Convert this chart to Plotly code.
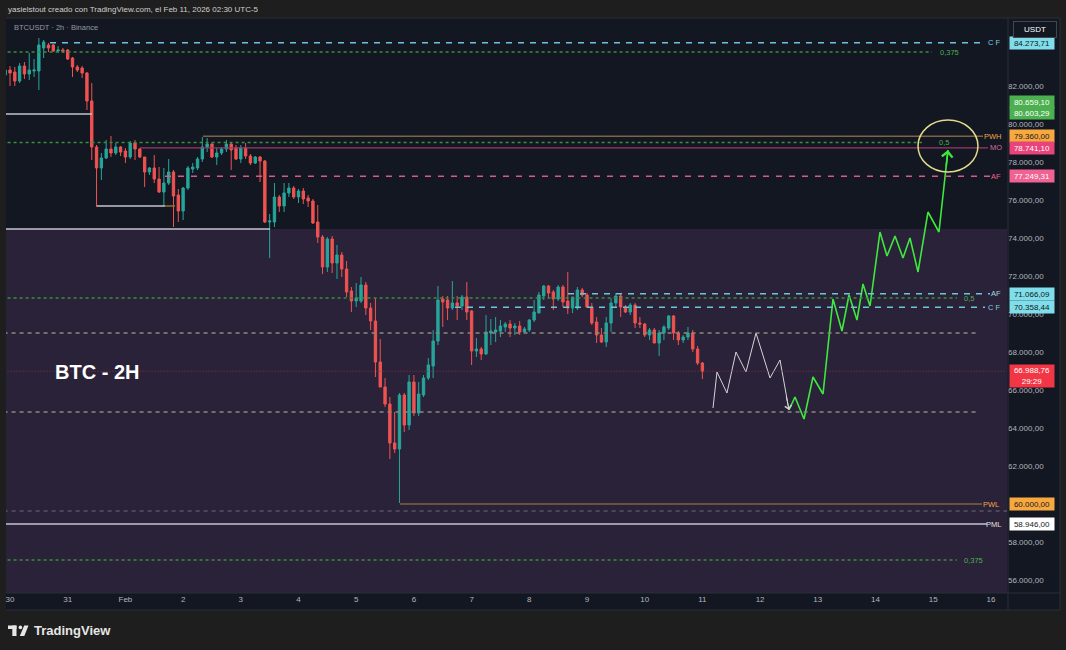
import plotly.graph_objects as go
import pandas as pd

# ---------------- data ----------------
bar_start = "2026-01-29 22:00"
bar_count = 146
open_ = [82579, 82842, 82737, 82263, 83053, 82632, 82789, 82789, 84000, 84158,
         84158, 83842, 83895, 83895, 83474, 83000, 82947, 82684, 81210, 78789,
         77684, 78210, 78684, 78474, 78789, 78579, 78263, 79000, 78684, 78263,
         77474, 77684, 77105, 76421, 76895, 77474, 76263, 75421, 76632, 77632,
         77684, 78158, 78789, 78947, 78263, 78474, 78684, 78947, 78737, 78158,
         78737, 78316, 77947, 78263, 78053, 74842, 74842, 76158, 75684, 76368,
         76632, 76158, 76474, 76105, 75947, 74842, 74053, 72474, 73947, 72684,
         73105, 72368, 71211, 70684, 70684, 71526, 70316, 69632, 67474, 66158,
         65263, 63211, 62895, 65737, 64158, 66421, 64789, 65737, 66632, 67263,
         68579, 70789, 70737, 70316, 70579, 70421, 70895, 70158, 68053, 68158,
         67895, 69000, 69053, 69105, 69316, 69474, 69263, 69368, 69053, 69158,
         69684, 70053, 70947, 71474, 71158, 70789, 71421, 70684, 70316, 70316,
         71263, 71000, 70368, 69579, 68895, 68526, 69526, 70579, 70947, 70368,
         70105, 70474, 69526, 69474, 68895, 69158, 68474, 69000, 69263, 69895,
         69000, 68632, 68789, 69000, 68158, 67421]
high = [82947, 83053, 83000, 83210, 83263, 83737, 83421, 84526, 84421, 84263,
        84210, 84105, 84000, 83947, 83526, 83105, 83053, 82737, 82158, 78895,
        78474, 79158, 79368, 79000, 78842, 78737, 79105, 79158, 78737, 78263,
        77737, 78368, 77737, 77684, 78158, 77579, 76579, 76684, 77789, 77947,
        78263, 79316, 79263, 79000, 78737, 78789, 79158, 79000, 78895, 78895,
        79000, 78421, 78316, 78316, 78105, 75263, 76895, 76263, 76895, 76895,
        76737, 76579, 76632, 76263, 76053, 75737, 74158, 74053, 74105, 73632,
        73263, 72789, 71421, 71632, 71947, 71684, 70579, 70842, 68684, 66632,
        65632, 64842, 65842, 65842, 66789, 66789, 66421, 66789, 67684, 69158,
        71474, 70947, 70947, 71737, 70947, 71000, 71684, 70211, 68737, 68263,
        69947, 69737, 69842, 69684, 69579, 69684, 69526, 69632, 69316, 69737,
        70737, 71158, 71526, 71526, 71263, 71526, 71526, 72211, 70895, 71421,
        71368, 71105, 70579, 69842, 69263, 69842, 70842, 71105, 71105, 70474,
        70579, 70579, 69842, 69526, 69263, 69263, 69158, 69421, 69947, 69947,
        69105, 68895, 69316, 69158, 68316, 67474]
low = [82474, 82000, 82000, 82158, 82368, 82316, 82474, 81789, 83474, 83789,
       83789, 83737, 83737, 83368, 82474, 82737, 82421, 80737, 78105, 75632,
       77053, 78158, 78263, 78368, 78316, 77947, 78158, 78105, 78210, 76684,
       77316, 76895, 76368, 75684, 76789, 74579, 74842, 74947, 76526, 77421,
       77579, 78000, 78526, 78210, 77842, 78368, 78526, 77579, 78105, 77947,
       78158, 77842, 77895, 76947, 74789, 72947, 74579, 75368, 75368, 76158,
       76053, 75842, 75789, 75632, 74737, 73737, 72105, 72211, 72158, 71842,
       71947, 70895, 70105, 70368, 70579, 69947, 69158, 66684, 66158, 65105,
       62368, 62684, 60050, 63789, 63895, 64632, 64632, 65632, 66526, 66632,
       68368, 69316, 69684, 70211, 69684, 70211, 69684, 67316, 67737, 67579,
       67842, 68368, 68526, 68789, 69053, 68789, 68895, 68895, 69000, 69053,
       69579, 70053, 70737, 70842, 70211, 70684, 70368, 70000, 70053, 70211,
       70895, 70316, 69421, 68474, 68474, 68263, 69053, 70368, 69842, 70053,
       69947, 69263, 69263, 68789, 68632, 68474, 67789, 68632, 69158, 68632,
       68368, 68474, 68632, 68000, 67316, 66579]
close = [82842, 82684, 82263, 83053, 82632, 82842, 82842, 84158, 84316, 84000,
         83842, 83895, 83842, 83421, 83000, 82842, 82684, 81210, 78789, 77684,
         78210, 78684, 78474, 78789, 78526, 78263, 79000, 78684, 78263, 77474,
         77684, 77105, 76421, 76895, 77474, 76210, 75421, 76632, 77684, 77737,
         78158, 78789, 78947, 78263, 78474, 78684, 78947, 78632, 78158, 78737,
         78316, 77947, 78263, 78053, 74842, 74895, 76158, 75684, 76368, 76632,
         76158, 76474, 76053, 75947, 74789, 74053, 72474, 73947, 72684, 73105,
         72368, 71158, 70684, 70842, 71526, 70316, 69632, 67474, 66158, 65263,
         63211, 62895, 65737, 64158, 66421, 64789, 65789, 66632, 67316, 68579,
         70737, 70632, 70316, 70579, 70421, 70895, 70105, 68053, 68158, 67895,
         69053, 69105, 69158, 69368, 69474, 69263, 69368, 69053, 69211, 69684,
         70105, 71000, 71474, 71105, 70789, 71421, 70632, 70316, 70895, 71263,
         71000, 70368, 69526, 68895, 68526, 69526, 70579, 70947, 70368, 70105,
         70474, 69526, 69474, 68895, 69158, 68474, 69000, 69316, 69895, 69000,
         68632, 68789, 69000, 68158, 67421, 66988.76]

level_price = [84273.71, 83789, 80526, 79360.00, 79030, 78741.10, 77249.31, 75684, 75684, 74474,
               71066.09, 70842, 70358.44, 69000, 66988.76, 64842, 60000.00, 59632, 58946.00, 57053]
level_start = ["2026-01-30 16:38", "2026-01-29 18:00", "2026-01-29 18:00", "2026-02-02 08:17",
               "2026-01-29 18:00", "2026-02-01 06:04", "2026-02-01 16:28", "2026-01-31 12:11",
               "2026-02-01 16:28", "2026-01-29 18:00", "2026-02-08 16:06", "2026-01-29 18:00",
               "2026-02-06 17:05", "2026-01-29 18:00", "2026-01-29 18:00", "2026-01-29 18:00",
               "2026-02-05 18:13", "2026-01-29 18:00", "2026-01-29 18:00", "2026-01-29 18:00"]
level_end = ["2026-02-15 21:33", "2026-02-14 23:30", "2026-01-31 10:06", "2026-02-15 20:43",
             "2026-02-14 19:20", "2026-02-15 22:48", "2026-02-15 23:37", "2026-02-01 16:28",
             "2026-02-01 20:38", "2026-02-03 12:09", "2026-02-15 23:37", "2026-02-15 09:53",
             "2026-02-15 21:33", "2026-02-15 18:13", "2026-02-16 10:00", "2026-02-15 18:13",
             "2026-02-15 20:18", "2026-02-16 10:00", "2026-02-15 22:22", "2026-02-15 09:53"]
level_kind = ["cf", "fib", "white", "pwh", "fib", "mo", "afp", "white", "brown", "white",
              "cf", "fib", "cf", "gray", "last", "gray", "pwh", "thin", "white", "fib"]

label_text = ["C F", "0,375", "PWH", "0,5", "MO", "AF", "AF", "0,5", "C F", "PWL", "PML", "0,375"]
label_price = [84273.71, 83789, 79360.00, 79030, 78741.10, 77249.31, 71066.09, 70842, 70358.44,
               60000.00, 58946.00, 57053]

tag_price = [84273.71, 80659.10, 80603.29, 79360.00, 78741.10, 77249.31, 71066.09, 70358.44,
             66988.76, 60000.00, 58946.00]
countdown = "29:29"

white_path_time = ["2026-02-11 04:25", "2026-02-11 06:04", "2026-02-11 10:13", "2026-02-11 13:58",
                   "2026-02-11 18:08", "2026-02-11 22:18", "2026-02-12 04:07", "2026-02-12 08:17",
                   "2026-02-12 12:01"]
white_path_price = [65053, 66947, 65842, 68000, 66947, 69000, 66632, 67579, 64947]

green_path_time = ["2026-02-12 12:00", "2026-02-12 14:31", "2026-02-12 18:16", "2026-02-12 22:00",
                   "2026-02-13 02:10", "2026-02-13 06:19", "2026-02-13 10:03", "2026-02-13 12:59",
                   "2026-02-13 16:18", "2026-02-13 18:48", "2026-02-13 21:43", "2026-02-14 01:52",
                   "2026-02-14 04:47", "2026-02-14 08:07", "2026-02-14 11:26", "2026-02-14 14:21",
                   "2026-02-14 17:41", "2026-02-14 21:50", "2026-02-15 02:24", "2026-02-15 06:09"]
green_path_price = [64947, 65632, 64474, 66684, 65789, 70789, 69105, 71000, 69684, 71579,
                    70421, 74316, 73053, 74105, 72947, 74000, 72211, 75368, 74316, 78632]

ellipse_time = ["2026-02-14 17:41", "2026-02-15 18:37"]
ellipse_price = [77474, 80211]

zone_top = 74474
x_range = ["2026-01-29 22:20", "2026-02-16 06:42"]
y_range = [55316, 85579]
x_tick_dates = ["2026-01-30", "2026-01-31", "2026-02-01", "2026-02-02", "2026-02-03", "2026-02-04",
                "2026-02-05", "2026-02-06", "2026-02-07", "2026-02-08", "2026-02-09", "2026-02-10",
                "2026-02-11", "2026-02-12", "2026-02-13", "2026-02-14", "2026-02-15", "2026-02-16"]
x_tick_text = ["30", "31", "Feb", "2", "3", "4", "5", "6", "7", "8", "9", "10", "11", "12", "13",
               "14", "15", "16"]
y_ticks = [56000, 58000, 62000, 64000, 66000, 68000, 70000, 72000, 74000, 76000, 78000,
           80000, 82000]

# ---------------- styles / layout ----------------
W, H = 1066, 650
ML, MR, MT, MB = 6, 59, 18, 57
FONT = "Liberation Sans, Arial, sans-serif"


def px_x(px):
    return (px - ML) / (W - ML - MR)


def px_y(py):
    return (H - MB - py) / (H - MT - MB)


def fmt(p):
    return f"{p:,.2f}".replace(",", "X").replace(".", ",").replace("X", ".")


kind_style = {
    "cf": dict(color="#6cc5d9", width=1.5, dash="6px,6px"),
    "fib": dict(color="#3a8f3d", width=1.5, dash="dot"),
    "white": dict(color="#c4c4cc", width=1.5, dash="solid"),
    "pwh": dict(color="#7d6443", width=1.5, dash="solid"),
    "mo": dict(color="#9b3b66", width=1.2, dash="solid"),
    "afp": dict(color="#d65a8a", width=1.5, dash="6px,7px"),
    "brown": dict(color="#9a7035", width=1.5, dash="solid"),
    "gray": dict(color="#8a887a", width=1.5, dash="4px,4px"),
    "last": dict(color="#8a3448", width=1, dash="1px,2px"),
    "thin": dict(color="#6e6e78", width=1, dash="4px,4px"),
}

times = pd.date_range(bar_start, periods=bar_count, freq="2h")

fig = go.Figure()

fig.add_trace(go.Candlestick(
    x=times, open=open_, high=high, low=low, close=close,
    increasing=dict(line=dict(color="#26a69a", width=1), fillcolor="#26a69a"),
    decreasing=dict(line=dict(color="#ef5350", width=1), fillcolor="#ef5350"),
    hoverinfo="skip", showlegend=False,
))

fig.add_trace(go.Scatter(x=white_path_time, y=white_path_price, mode="lines",
                         line=dict(color="#d4d4d8", width=1), hoverinfo="skip", showlegend=False))
fig.add_trace(go.Scatter(x=green_path_time, y=green_path_price, mode="lines",
                         line=dict(color="#3ee83e", width=1.6), hoverinfo="skip", showlegend=False))

shapes = []
# backgrounds
shapes.append(dict(type="rect", xref="paper", yref="y", x0=0, x1=1, y0=y_range[0], y1=zone_top,
                   fillcolor="#2a2238", line=dict(width=0), layer="below"))
shapes.append(dict(type="rect", xref="paper", yref="paper", x0=1, x1=px_x(1060), y0=px_y(610),
                   y1=px_y(18), fillcolor="#131722", line=dict(width=0), layer="below"))
shapes.append(dict(type="rect", xref="paper", yref="paper", x0=0, x1=px_x(1060), y0=px_y(610),
                   y1=0, fillcolor="#131722", line=dict(width=0), layer="below"))
for (a, b, c, d) in [(1008, 18, 1008, 610), (6, 593, 1060, 593), (1060, 18, 1060, 610),
                     (6, 18, 1060, 18), (6, 610, 1060, 610)]:
    shapes.append(dict(type="line", xref="paper", yref="paper", x0=px_x(a), x1=px_x(c),
                       y0=px_y(b), y1=px_y(d), line=dict(color="#2a2e39", width=1)))

for p, s, e, k in zip(level_price, level_start, level_end, level_kind):
    shapes.append(dict(type="line", xref="x", yref="y", x0=s, x1=e, y0=p, y1=p,
                       line=kind_style[k], layer="above"))

shapes.append(dict(type="circle", xref="x", yref="y", x0=ellipse_time[0], x1=ellipse_time[1],
                   y0=ellipse_price[0], y1=ellipse_price[1], line=dict(color="#e4da8a", width=1.5)))

# TradingView logo
logo_col = "#e6e6e6"
shapes.append(dict(type="rect", xref="paper", yref="paper", x0=px_x(8), x1=px_x(16.5),
                   y0=px_y(629), y1=px_y(625.5), fillcolor=logo_col, line=dict(width=0)))
shapes.append(dict(type="rect", xref="paper", yref="paper", x0=px_x(12.3), x1=px_x(16.5),
                   y0=px_y(636), y1=px_y(625.5), fillcolor=logo_col, line=dict(width=0)))
shapes.append(dict(type="circle", xref="paper", yref="paper", x0=px_x(18.6), x1=px_x(22.2),
                   y0=px_y(629.2), y1=px_y(625.6), fillcolor=logo_col, line=dict(width=0)))
shapes.append(dict(type="path", xref="paper", yref="paper",
                   path=f"M{px_x(24.2)},{px_y(625.5)} L{px_x(28.5)},{px_y(625.5)} "
                        f"L{px_x(24.3)},{px_y(636)} L{px_x(19.8)},{px_y(636)} Z",
                   fillcolor=logo_col, line=dict(width=0)))

annotations = []
# level labels
label_px = [1003, 938, 1004, 937, 1004, 1003, 1003, 962, 1003, 1001, 1003, 962]
label_anchor = ["right", "left", "right", "left", "right", "right", "right", "left", "right",
                "right", "right", "left"]
label_color = ["#7fcfe0", "#4caf50", "#f0a64a", "#4caf50", "#d0709c", "#f06292", "#a9d9e8",
               "#4caf50", "#7fcfe0", "#f0a64a", "#e0e0e0", "#4caf50"]
for t, p, x, a, c in zip(label_text, label_price, label_px, label_anchor, label_color):
    annotations.append(dict(xref="paper", yref="y", x=px_x(x), y=p, text=t, showarrow=False,
                            xanchor=a, yanchor="middle", bgcolor="rgba(0,0,0,0)",
                            font=dict(family=FONT, size=7.5, color=c)))

# price tags
tag_bg = ["#80deea", "#4caf50", "#4caf50", "#f7a93f", "#e8437a", "#f06292", "#80deea", "#80deea",
          "#f23645", "#f7a93f", "#ffffff"]
tag_fg = ["#131722", "#ffffff", "#ffffff", "#131722", "#ffffff", "#ffffff", "#131722", "#131722",
          "#ffffff", "#131722", "#131722"]
tag_shift = [0, 9, 0, 0, 0, 0, 0, 0, -5, 0, 0]
for i, (p, bg, fg, sh) in enumerate(zip(tag_price, tag_bg, tag_fg, tag_shift)):
    txt = fmt(p)
    h = 10
    if i == 8:
        txt = txt + "<br>" + countdown
        h = 20
    annotations.append(dict(xref="paper", yref="y", x=px_x(1009), y=p, yshift=sh, text=txt,
                            showarrow=False, xanchor="left", yanchor="middle", bgcolor=bg,
                            width=42, height=h, borderpad=1, align="center",
                            font=dict(family=FONT, size=8, color=fg)))

# arrows on projection paths
annotations.append(dict(xref="x", yref="y", x=white_path_time[-1], y=white_path_price[-1],
                        ax=-3, ay=-15, showarrow=True, arrowhead=4, arrowsize=1.3, arrowwidth=1,
                        arrowcolor="#d4d4d8", text=""))
annotations.append(dict(xref="x", yref="y", x=green_path_time[-1], y=green_path_price[-1],
                        ax=-2, ay=18, showarrow=True, arrowhead=4, arrowsize=1.3, arrowwidth=1.6,
                        arrowcolor="#3ee83e", text=""))

# texts
annotations.append(dict(xref="paper", yref="y", x=px_x(53), y=66947, text="<b>BTC - 2H</b>",
                        showarrow=False, xanchor="left", yanchor="middle",
                        font=dict(family=FONT, size=20, color="#ffffff")))
annotations.append(dict(xref="paper", yref="paper", x=px_x(6), y=px_y(9.5),
                        text="yasielstout creado con TradingView.com, el Feb 11, 2026 02:30 UTC-5",
                        showarrow=False, xanchor="left", yanchor="middle",
                        font=dict(family=FONT, size=8, color="#cfcfcf")))
annotations.append(dict(xref="paper", yref="paper", x=px_x(12), y=px_y(27.5),
                        text="BTCUSDT · 2h · Binance", showarrow=False, xanchor="left",
                        yanchor="middle", font=dict(family=FONT, size=7.5, color="#9598a1")))
annotations.append(dict(xref="paper", yref="paper", x=px_x(1034.5), y=px_y(29.5), text="USDT",
                        showarrow=False, xanchor="center", yanchor="middle", width=40, height=13,
                        bgcolor="#131722", bordercolor="#434651", borderwidth=1, borderpad=1,
                        font=dict(family=FONT, size=8, color="#ffffff")))
annotations.append(dict(xref="paper", yref="paper", x=px_x(32), y=px_y(631),
                        text="<b>TradingView</b>", showarrow=False, xanchor="left",
                        yanchor="middle", font=dict(family=FONT, size=13, color="#e6e6e6")))

fig.update_layout(
    width=W, height=H, margin=dict(l=ML, r=MR, t=MT, b=MB, pad=0),
    paper_bgcolor="#1e1e1e", plot_bgcolor="#131722",
    separators=",.", template="none", showlegend=False,
    shapes=shapes, annotations=annotations,
    font=dict(family=FONT, size=8, color="#b2b5be"),
    xaxis=dict(type="date", range=x_range, rangeslider=dict(visible=False), showgrid=False,
               zeroline=False, showline=False, ticks="", tickvals=x_tick_dates,
               ticktext=x_tick_text, tickfont=dict(family=FONT, size=8, color="#b2b5be"),
               automargin=False, fixedrange=True),
    yaxis=dict(range=y_range, side="right", showgrid=False, zeroline=False, showline=False,
               ticks="", tickvals=y_ticks, tickformat=",.2f",
               tickfont=dict(family=FONT, size=8, color="#b2b5be"), automargin=False,
               fixedrange=True),
)

fig.write_html("out.html")
